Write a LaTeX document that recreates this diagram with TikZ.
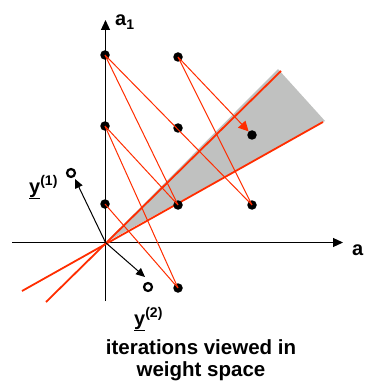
\documentclass[tikz,border=0pt]{standalone}
\usepackage{fontspec}
\setmainfont{Liberation Sans}
\usetikzlibrary{arrows.meta}
\definecolor{itred}{RGB}{255,45,0}
\definecolor{wedge}{RGB}{192,193,192}
\tikzset{
  dot/.style={circle,fill=black,inner sep=0pt,minimum size=9.5pt},
  axis/.style={line width=1.2pt,-{Triangle[length=10pt,width=9pt]}},
  iter/.style={itred,line width=1pt},
  bound/.style={itred,line width=1.8pt},
  vec/.style={line width=1pt,-{Triangle[length=9pt,width=8pt]}},
  ring/.style={circle,draw=black,line width=2.2pt,inner sep=0pt,minimum size=8pt},
  lbl/.style={font=\fontsize{20}{22}\selectfont\bfseries,inner sep=0pt},
  captext/.style={font=\fontsize{20.5}{22}\selectfont\bfseries,inner sep=0pt}
}
\begin{document}
\begin{tikzpicture}[x=1pt,y=-1pt]
\useasboundingbox (0,0) rectangle (364,382);
% axes
\coordinate (O) at (105.5,242.5);
\coordinate (xs) at (12,242.5);
\coordinate (xe) at (343,242.5);
\coordinate (ys) at (105.5,301);
\coordinate (ye) at (105.5,20);
% wedge
\fill[wedge] (O) -- (278,69) -- (325,121) -- cycle;
\draw[axis] (xs) -- (xe);
\draw[axis] (ys) -- (ye);
% boundary lines
\coordinate (b1s) at (46,302);
\coordinate (b1e) at (281,71);
\coordinate (b2s) at (22,291);
\coordinate (b2e) at (323,122);
\draw[bound] (b1s) -- (b1e);
\draw[bound] (b2s) -- (b2e);
% dots
\node[dot] (d1) at (105,55) {};
\node[dot] (d2) at (178,57) {};
\node[dot] (d3) at (105,126) {};
\node[dot] (d4) at (178,128) {};
\node[dot] (d5) at (252,135) {};
\node[dot] (d6) at (105,204) {};
\node[dot] (d7) at (178,205) {};
\node[dot] (d8) at (252,205) {};
\node[dot] (d9) at (178,288) {};
% iteration lines
\draw[iter] (d1.center) -- (d7.center);
\draw[iter] (d1.center) -- (d8.center);
\draw[iter] (d3.center) -- (d7.center);
\draw[iter] (d3.center) -- (d9.center);
\draw[iter] (d6.center) -- (d9.center);
\draw[iter] (d2.center) -- (d8.center);
\draw[iter,-{Triangle[length=10pt,width=10pt]}] (d2.center) -- (d5);
% sample vectors
\coordinate (v1) at (75,179);
\coordinate (v2) at (145,277);
\draw[vec] (O) -- (v1);
\draw[vec] (O) -- (v2);
\node[ring] (r1) at (71,173) {};
\node[ring] (r2) at (148,287) {};
% labels
\node[lbl,anchor=base west] (la1) at (115,26) {a\textsubscript{1}};
\node[lbl,anchor=base west] (la2) at (352,255) {a};
\node[lbl,anchor=base west] (ly1) at (29,193) {\underline{y}\textsuperscript{(1)}};
\node[lbl,anchor=base west] (ly2) at (134,325) {\underline{y}\textsuperscript{(2)}};
\node[captext,align=center,anchor=base] (captn) at (201,376) {iterations viewed in\\weight space};
\end{tikzpicture}
\end{document}
